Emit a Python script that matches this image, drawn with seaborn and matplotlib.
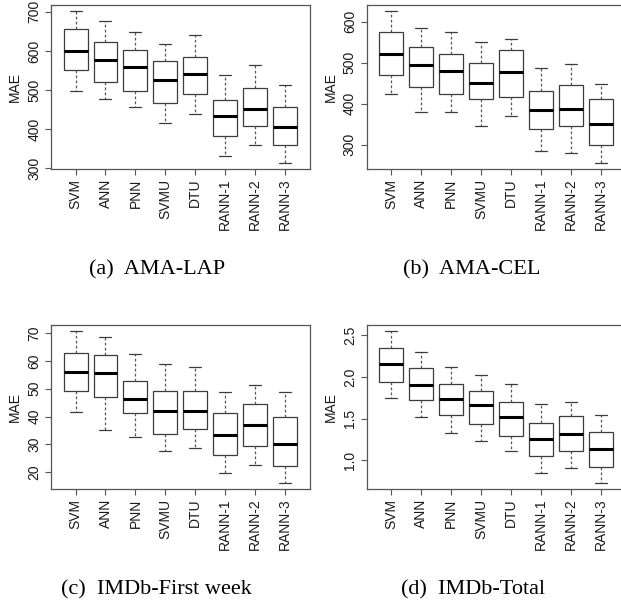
import pandas as pd
import matplotlib
matplotlib.use("Agg")
import matplotlib.pyplot as plt
import seaborn as sns

sns.set_theme(style="ticks")
plt.rcParams['font.family'] = ['Liberation Sans', 'DejaVu Sans']

methods = ['SVM', 'ANN', 'PNN', 'SVMU', 'DTU', 'RANN-1', 'RANN-2', 'RANN-3']

# five-number summaries: lower whisker, Q1, median, Q3, upper whisker
ama_lap = [[497, 552, 599, 657, 702],
           [478, 521, 577, 623, 676],
           [457, 497, 559, 602, 649],
           [416, 467, 525, 574, 618],
           [438, 491, 541, 584, 640],
           [332, 382, 433, 476, 538],
           [359, 409, 451, 505, 564],
           [314, 361, 405, 457, 514]]
ama_cel = [[424, 470, 522, 574, 626],
           [379, 441, 494, 538, 585],
           [379, 424, 480, 522, 575],
           [344, 410, 451, 500, 550],
           [370, 417, 476, 531, 558],
           [284, 337, 384, 431, 488],
           [280, 345, 387, 445, 497],
           [255, 299, 351, 412, 449]]
imdb_week = [[41.5, 49.3, 56.1, 62.7, 70.7],
             [35.1, 46.9, 55.5, 62.2, 68.6],
             [32.7, 41.3, 46.3, 52.7, 62.5],
             [27.7, 33.7, 42.1, 49.3, 58.9],
             [28.7, 35.5, 42.0, 49.3, 57.9],
             [19.6, 26.3, 33.5, 41.3, 49.0],
             [22.8, 29.5, 37.1, 44.5, 51.5],
             [16.2, 22.3, 30.1, 40.0, 49.0]]
imdb_total = [[1.75, 1.945, 2.158, 2.347, 2.552],
              [1.515, 1.728, 1.905, 2.106, 2.303],
              [1.326, 1.539, 1.736, 1.917, 2.118],
              [1.229, 1.434, 1.664, 1.833, 2.026],
              [1.109, 1.294, 1.515, 1.704, 1.913],
              [0.847, 1.048, 1.258, 1.447, 1.676],
              [0.912, 1.109, 1.310, 1.527, 1.704],
              [0.727, 0.924, 1.129, 1.338, 1.543]]

captions = ['(a)  AMA-LAP', '(b)  AMA-CEL', '(c)  IMDb-First week', '(d)  IMDb-Total']
yticks = [[300, 400, 500, 600, 700], [300, 400, 500, 600],
          [20, 30, 40, 50, 60, 70], [1.0, 1.5, 2.0, 2.5]]
ytick_fmt = ['{:.0f}', '{:.0f}', '{:.0f}', '{:.1f}']

W, H = 621, 608
fig = plt.figure(figsize=(W / 100, H / 100), dpi=100)

# pixel boxes (left, top, right, bottom)
boxes = [(51, 5, 309.6, 169), (366.5, 5, 626, 169),
         (51, 325, 309.6, 489), (366.5, 325, 626, 489)]
cap_pos = [(157, 270), (472, 270), (156, 590), (473, 590)]

edge = '#3c3c3c'
for i, stats in enumerate([ama_lap, ama_cel, imdb_week, imdb_total]):
    l, t, r, b = boxes[i]
    ax = fig.add_axes([l / W, 1 - b / H, (r - l) / W, (b - t) / H])
    rows = []
    for m, s in zip(methods, stats):
        for v in s:
            rows.append({'method': m, 'mae': v})
    df = pd.DataFrame(rows)
    sns.boxplot(data=df, x='method', y='mae', order=methods, ax=ax,
                whis=(0, 100), width=0.8, color='white', saturation=1,
                linecolor=edge, linewidth=0.9, showfliers=False,
                medianprops=dict(color='black', linewidth=2.2),
                whiskerprops=dict(linestyle=(0, (2.2, 1.8)), color='#555555'))
    lo = min(s[0] for s in stats)
    hi = max(s[4] for s in stats)
    pad = (hi - lo) * 0.04
    ax.set_ylim(lo - pad, hi + pad)
    ax.set_xlim(-0.82, 7.82)
    ax.set_yticks(yticks[i])
    ax.set_yticklabels([ytick_fmt[i].format(v) for v in yticks[i]],
                       rotation=90, va='center')
    ax.set_xticks(range(len(methods)))
    ax.set_xticklabels(methods, rotation=90)
    ax.tick_params(axis='both', direction='out', length=4, width=0.8,
                   color='#555555', labelsize=10, labelcolor='#1a1a1a', pad=3)
    ax.set_xlabel('')
    ax.set_ylabel('MAE', fontsize=10, color='#1a1a1a')
    ax.yaxis.set_label_coords(-29 / (r - l), 0.5)
    for sp in ax.spines.values():
        sp.set_visible(True)
        sp.set_color('#555555')
        sp.set_linewidth(0.9)
    cx, cy = cap_pos[i]
    fig.text(cx / W, 1 - cy / H, captions[i], ha='center', va='center',
             fontsize=16, family=['Liberation Serif', 'DejaVu Serif'],
             color='black')

fig.savefig('out.png', dpi=100, facecolor='white')
